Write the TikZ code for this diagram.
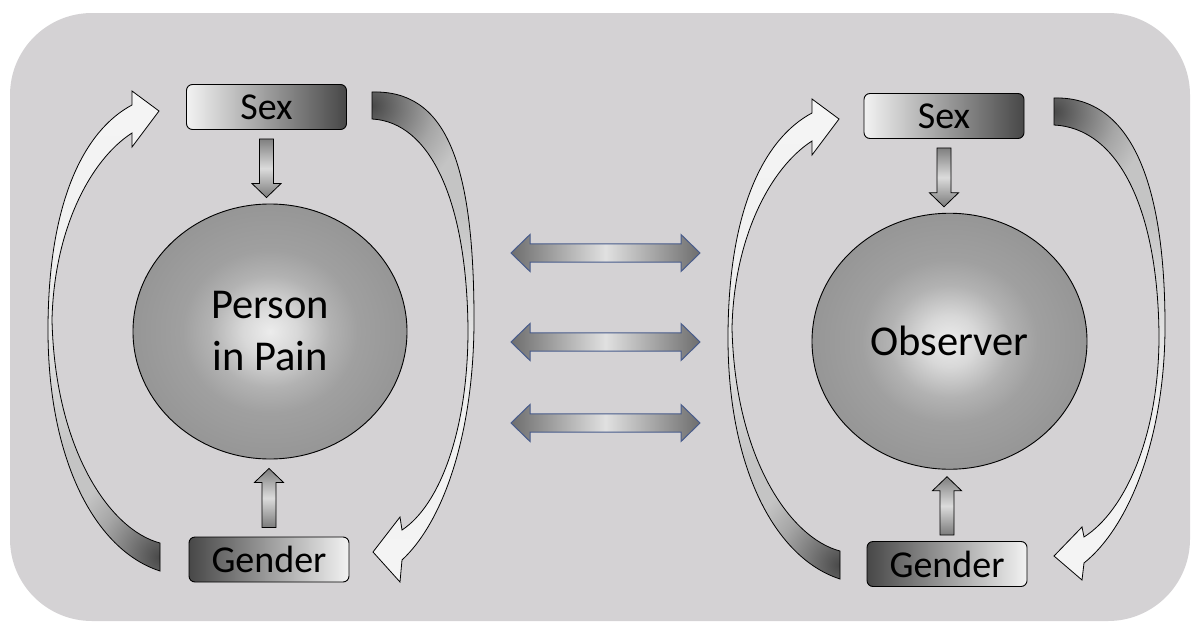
\documentclass[tikz,border=0pt]{standalone}
\usepackage{fontspec}
\setmainfont{Carlito}
\usetikzlibrary{shapes.geometric,calc}
\definecolor{bgc}{RGB}{212,210,212}
\definecolor{dk}{RGB}{72,72,72}
\definecolor{t1}{RGB}{120,120,120}
\definecolor{t2}{RGB}{166,166,166}
\definecolor{lg}{RGB}{196,196,196}
\definecolor{w1}{RGB}{228,228,228}
\definecolor{w2}{RGB}{240,240,240}
\definecolor{wh}{RGB}{245,245,245}
\definecolor{b0}{RGB}{236,236,236}
\definecolor{b1}{RGB}{216,216,216}
\definecolor{b2}{RGB}{178,178,178}
\definecolor{b3}{RGB}{160,160,160}
\definecolor{b4}{RGB}{150,150,150}
\definecolor{edgeblue}{RGB}{72,92,140}
% vertical band shadings (inner 25bp..75bp = bounding box)
\pgfdeclareverticalshading{bandup}{100bp}{color(0bp)=(lg); color(25bp)=(lg); color(38bp)=(lg); color(50bp)=(w1); color(58bp)=(w2); color(75bp)=(wh); color(100bp)=(wh)}
\pgfdeclareverticalshading{banddown}{100bp}{color(0bp)=(wh); color(25bp)=(wh); color(42bp)=(w2); color(50bp)=(w1); color(62bp)=(lg); color(75bp)=(lg); color(100bp)=(lg)}
\pgfdeclareradialshading{tailshade}{\pgfpoint{0bp}{0bp}}{color(0bp)=(dk); color(6bp)=(t1); color(12bp)=(t2); color(18bp)=(lg); color(25bp)=(lg); color(50bp)=(lg)}
\pgfdeclareradialshading{ballshade}{\pgfpoint{0bp}{0bp}}{color(0bp)=(b0); color(5bp)=(b1); color(11bp)=(b2); color(16bp)=(b3); color(25bp)=(b4); color(50bp)=(b4)}
\tikzset{
  outl/.style={draw=black, line width=0.9pt},
  boxtext/.style={font=\fontsize{38}{42}\selectfont},
  lightleft/.style={outl, rounded corners=6pt, left color=black!5, right color=black!72, minimum width=160pt, minimum height=45pt, inner sep=0pt, boxtext},
  darkleft/.style={outl, rounded corners=6pt, left color=black!72, right color=black!5, minimum width=160pt, minimum height=45pt, inner sep=0pt, boxtext},
  ball/.style={outl, ellipse, shading=ballshade, inner sep=0pt, align=center, font=\fontsize{42.5}{52}\selectfont},
  blockar/.style={outl, line width=0.8pt, top color=black!50, bottom color=black!52, middle color=black!14},
  sweep/.style={draw=black, line width=0.8pt, line join=miter},
  dbl/.style={draw=edgeblue, line width=1pt, left color=black!57, right color=black!57, middle color=black!12}
}
% sweep outlines (local pixel coordinates)
\newcommand\upsweep{(160,543)
  .. controls (110,530) and (55,450) .. (52,320)
  .. controls (54,230) and (90,160) .. (132,133)
  -- (132,147) -- (159,111) -- (132,91) -- (132,105)
  .. controls (85,130) and (48,200) .. (48,330)
  .. controls (48,460) and (95,550) .. (160,571) -- cycle}
\newcommand\downsweepL{(372,92)
  .. controls (445,90) and (474,160) .. (474,320)
  .. controls (474,430) and (445,520) .. (402,560)
  -- (400,582) -- (373,552) -- (400,517) -- (402,530)
  .. controls (440,505) and (468,430) .. (468,330)
  .. controls (467,200) and (430,122) .. (372,119) -- cycle}
\newcommand\downsweepR{(1054,98)
  .. controls (1125,96) and (1165,170) .. (1165,326)
  .. controls (1165,436) and (1130,526) .. (1084,563)
  -- (1082,580) -- (1054,556) -- (1082,527) -- (1084,537)
  .. controls (1125,511) and (1159,436) .. (1159,336)
  .. controls (1158,206) and (1117,128) .. (1054,125) -- cycle}
\begin{document}
\begin{tikzpicture}[x=1pt,y=-1pt]
\useasboundingbox (0,0) rectangle (1191,629);
\fill[bgc, rounded corners=82pt] (10,13) rectangle (1190,621);

% ---------- left group ----------
\node[lightleft] (sexL) at (266.5,107) {Sex};
\node[darkleft] (genL) at (269,559.5) {Gender};
\node[ball, minimum width=274pt, minimum height=255pt] (pL) at (270,331.5) {Person\\in Pain};

\draw[blockar] let \p1=(sexL.south), \p2=(pL.north) in
  (\x1-7pt,\y1-9pt) -- (\x1+7pt,\y1-9pt) -- (\x1+7pt,\y2+20pt) -- (\x1+14.5pt,\y2+20pt)
  -- (\x1,\y2+6pt) -- (\x1-14.5pt,\y2+20pt) -- (\x1-7pt,\y2+20pt) -- cycle;
\draw[blockar] let \p1=(genL.north), \p2=(pL.south) in
  (\x1-7pt,\y1+9pt) -- (\x1+7pt,\y1+9pt) -- (\x1+7pt,\y2-23pt) -- (\x1+14.5pt,\y2-23pt)
  -- (\x1,\y2-9pt) -- (\x1-14.5pt,\y2-23pt) -- (\x1-7pt,\y2-23pt) -- cycle;

% left sweep: Gender -> Sex
\begin{scope}
  \clip \upsweep;
  \shade[shading=bandup] (30,85) rectangle (175,580);
  \shade[shading=tailshade] (160,557) circle (130);
\end{scope}
\draw[sweep] \upsweep;
% right sweep: Sex -> Gender
\begin{scope}
  \clip \downsweepL;
  \shade[shading=banddown] (360,85) rectangle (480,590);
  \shade[shading=tailshade] (372,105.5) circle (130);
\end{scope}
\draw[sweep] \downsweepL;

% ---------- right group ----------
\node[lightleft] (sexR) at (944,116) {Sex};
\node[darkleft] (genR) at (947,564) {Gender};
\node[ball, minimum width=275pt, minimum height=256pt] (pR) at (949.5,341.25) {Observer};

\draw[blockar] let \p1=(sexR.south), \p2=(pR.north) in
  (\x1-7pt,\y1-9pt) -- (\x1+7pt,\y1-9pt) -- (\x1+7pt,\y2+20pt) -- (\x1+14.5pt,\y2+20pt)
  -- (\x1,\y2+6pt) -- (\x1-14.5pt,\y2+20pt) -- (\x1-7pt,\y2+20pt) -- cycle;
\draw[blockar] let \p1=(genR.north), \p2=(pR.south) in
  (\x1-7pt,\y1+6pt) -- (\x1+7pt,\y1+6pt) -- (\x1+7pt,\y2-21pt) -- (\x1+14.5pt,\y2-21pt)
  -- (\x1,\y2-7pt) -- (\x1-14.5pt,\y2-21pt) -- (\x1-7pt,\y2-21pt) -- cycle;

\begin{scope}[shift={(680,8)}]
  \begin{scope}
    \clip \upsweep;
    \shade[shading=bandup] (30,85) rectangle (175,580);
    \shade[shading=tailshade] (160,557) circle (130);
  \end{scope}
  \draw[sweep] \upsweep;
\end{scope}
\begin{scope}
  \clip \downsweepR;
  \shade[shading=banddown] (1040,90) rectangle (1170,590);
  \shade[shading=tailshade] (1054,111.5) circle (130);
\end{scope}
\draw[sweep] \downsweepR;

% ---------- double arrows ----------
\foreach \yy in {253,342,423} {
  \draw[dbl] (511,\yy) -- (530,\yy-18.5) -- (530,\yy-9.2) -- (681,\yy-9.2) -- (681,\yy-18.5)
    -- (700,\yy) -- (681,\yy+18.5) -- (681,\yy+9.2) -- (530,\yy+9.2) -- (530,\yy+18.5) -- cycle;
}
\end{tikzpicture}
\end{document}
